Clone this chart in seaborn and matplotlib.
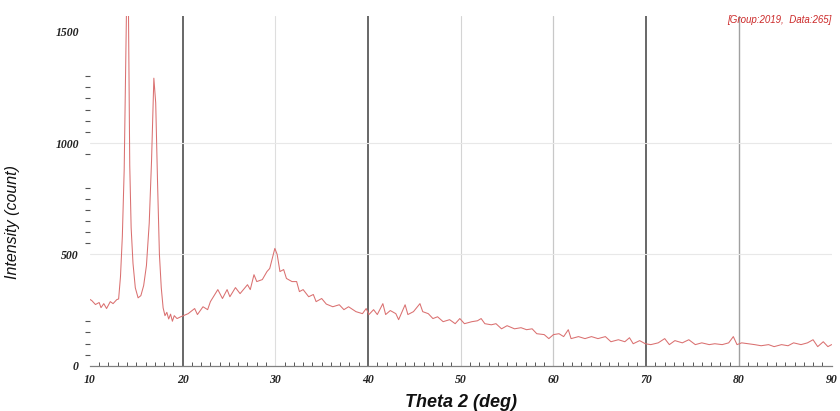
import matplotlib
matplotlib.use("Agg")
import matplotlib.pyplot as plt
import seaborn as sns
import pandas as pd
from matplotlib.ticker import MultipleLocator, FixedLocator

two_theta = [
    10.0, 10.2, 10.6, 11.0, 11.2, 11.5, 11.8, 12.2, 12.5, 12.9, 13.1,
    13.3, 13.5, 13.7, 13.85, 14.0, 14.15, 14.3, 14.45, 14.65, 14.9, 15.2,
    15.5, 15.8, 16.1, 16.4, 16.65, 16.9, 17.1, 17.3, 17.5, 17.7, 17.9,
    18.1, 18.3, 18.5, 18.7, 18.9, 19.1, 19.4, 19.8,
    20.6, 21.3, 21.6, 22.2, 22.7, 23.0, 23.8, 24.3, 24.8, 25.1, 25.7,
    26.2, 27.0, 27.3, 27.7, 28.0, 28.6, 29.1, 29.4, 29.95, 30.2, 30.5,
    30.9, 31.2, 31.8, 32.3, 32.6, 33.0, 33.6, 34.1, 34.4, 35.0, 35.5,
    36.2, 36.9, 37.4, 37.9, 38.7, 39.4, 39.8, 40.1, 40.6, 41.0, 41.6,
    41.9, 42.4, 43.0, 43.3, 44.0, 44.3, 44.9, 45.6, 45.9, 46.5, 47.0,
    47.5, 48.1, 48.8, 49.4, 49.9, 50.4, 51.2, 51.8, 52.2, 52.6, 53.3,
    53.8, 54.4, 55.0, 55.8, 56.5, 57.1, 57.7, 58.2, 59.0, 59.5, 60.0,
    60.6, 61.1, 61.6, 61.9, 62.7, 63.4, 64.1, 64.8, 65.6, 66.2, 67.0,
    67.7, 68.2, 68.6, 69.3, 69.9, 70.5, 71.3, 72.0, 72.5, 73.1, 73.9,
    74.6, 75.3, 76.0, 76.8, 77.4, 78.2, 78.9, 79.4, 79.8, 80.3, 81.0,
    81.7, 82.4, 83.2, 83.8, 84.6, 85.3, 85.9, 86.7, 87.4, 88.0, 88.5,
    89.1, 89.6, 90.0,
]
intensity = [
    298, 293, 275, 284, 261, 279, 257, 288, 279, 297, 300,
    400, 580, 880, 1300, 1750, 1650, 900, 620, 460, 350, 305,
    315, 360, 450, 640, 920, 1291, 1180, 820, 500, 350, 260,
    225, 240, 210, 232, 200, 225, 212, 220,
    234, 257, 230, 265, 252, 288, 342, 302, 342, 310, 351,
    324, 364, 342, 409, 378, 387, 423, 437, 527, 500, 423,
    432, 392, 378, 378, 333, 342, 310, 320, 288, 302, 277,
    265, 274, 252, 265, 243, 234, 257, 230, 252, 230, 279,
    230, 248, 234, 207, 274, 230, 243, 279, 243, 234, 212,
    220, 198, 207, 189, 212, 189, 198, 202, 212, 189, 184,
    189, 166, 180, 166, 171, 162, 166, 144, 140, 122, 140,
    144, 131, 162, 122, 131, 122, 131, 122, 131, 108, 117,
    108, 126, 99, 113, 99, 95, 103, 122, 95, 113, 103,
    117, 95, 103, 95, 99, 95, 103, 131, 95, 103, 99,
    95, 90, 95, 86, 95, 90, 103, 95, 103, 117, 86,
    108, 86, 95,
]

x_label = "Theta 2 (deg)"
y_label = "Intensity (count)"
note = "[Group:2019,  Data:265]"
x_ticks = [10, 20, 30, 40, 50, 60, 70, 80, 90]
y_ticks = [0, 500, 1000, 1500]

df = pd.DataFrame({"two_theta": two_theta, "intensity": intensity})

sns.set_theme(style="white")
plt.rcParams["font.family"] = ["Liberation Sans", "DejaVu Sans"]

fig = plt.figure(figsize=(8.4, 4.11), dpi=100)
ax = fig.add_axes([0.107, 0.11, 0.883, 0.851])

# reference lines
vlines = [(20, "#5c5c5c", 1.3), (30, "#dedede", 0.8), (40, "#5c5c5c", 1.3),
          (50, "#d4d4d4", 0.8), (60, "#c8c8c8", 0.9), (70, "#5c5c5c", 1.3),
          (80, "#a0a0a0", 1.0)]
for xv, c, lw in vlines:
    ax.axvline(xv, color=c, lw=lw, zorder=1)
for yv in (500, 1000):
    ax.axhline(yv, color="#e8e8e8", lw=0.8, zorder=1)

sns.lineplot(data=df, x="two_theta", y="intensity", ax=ax,
             color="#da7070", lw=0.75, zorder=3, estimator=None, sort=False)

ax.set_xlim(10, 90)
ax.set_ylim(0, 1570)

for s in ("top", "right", "left"):
    ax.spines[s].set_visible(False)
ax.spines["bottom"].set_color("#808080")
ax.spines["bottom"].set_linewidth(0.9)

ax.set_xticks(x_ticks)
ax.set_yticks(y_ticks)
ax.xaxis.set_minor_locator(MultipleLocator(1))
ax.yaxis.set_minor_locator(FixedLocator([50, 100, 150, 200, 550, 600, 650, 700,
                                          750, 800, 950, 1050, 1100, 1150,
                                          1200, 1250, 1300]))
ax.tick_params(axis="x", which="major", length=4, width=0.8, color="#555555",
               direction="in", pad=6)
ax.tick_params(axis="x", which="minor", length=3, width=0.7, color="#555555",
               direction="in", bottom=True)
ax.tick_params(axis="y", which="major", length=0, pad=8)
ax.tick_params(axis="y", which="minor", length=3.5, width=0.8, color="#555555",
               direction="out", left=True)

for lab in ax.get_xticklabels() + ax.get_yticklabels():
    lab.set_fontfamily("Liberation Serif")
    lab.set_fontstyle("italic")
    lab.set_fontweight("bold")
    lab.set_fontsize(8.5)
    lab.set_color("#222222")

ax.set_xlabel(x_label, fontsize=13, fontweight="bold", fontstyle="italic",
              color="#111111", labelpad=6)
ax.set_ylabel(y_label, fontsize=11.5, fontstyle="italic", color="#111111")
ax.yaxis.set_label_coords(-0.094, 0.41)

ax.text(1.0, 0.99, note, transform=ax.transAxes, ha="right", va="center",
        fontsize=7, fontstyle="italic", color="#cc2a2a")

fig.savefig("out.png", dpi=100)
